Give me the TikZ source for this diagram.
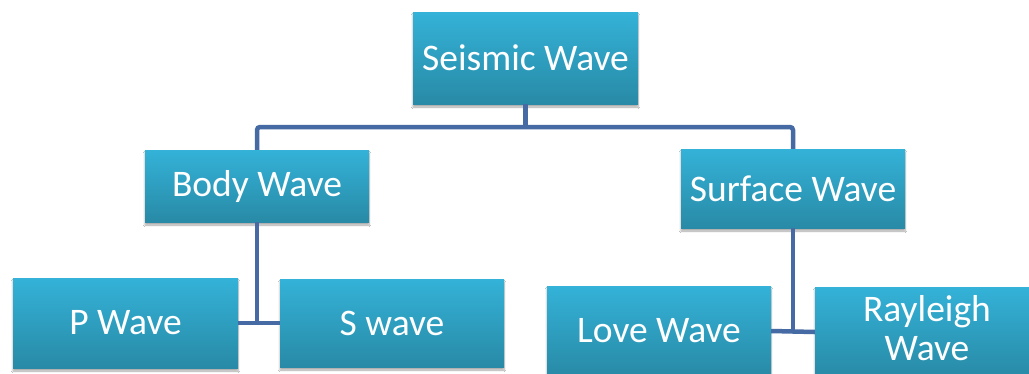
\documentclass[tikz,border=0pt]{standalone}
\usepackage{fontspec}
\setmainfont{Carlito}
\usetikzlibrary{shadows.blur}
\definecolor{boxtop}{RGB}{52,178,216}
\definecolor{boxbot}{RGB}{40,138,166}
\definecolor{linkblue}{RGB}{70,106,164}
\tikzset{
  wavebox/.style={rectangle, inner sep=0pt, align=center,
    top color=boxtop, bottom color=boxbot, draw=none,
    text=white, font=\fontsize{37.5}{39}\selectfont,
    blur shadow={shadow xshift=0pt, shadow yshift=-3pt, shadow opacity=35, shadow blur steps=6}},
  link/.style={draw=linkblue, line width=4.5pt}
}
\begin{document}
\begin{tikzpicture}[x=1pt, y=-1pt]
  \useasboundingbox (0,0) rectangle (1029,373);
  \clip (0,0) rectangle (1029,373);
  \fill[white] (0,0) rectangle (1029,373);

  % tree of seismic wave types
  \node[wavebox, minimum width=225pt, minimum height=92pt] (seis) at (525.5,58) {Seismic Wave};
  \node[wavebox, minimum width=224pt, minimum height=72pt] (body) at (257,186) {Body Wave};
  \node[wavebox, minimum width=224pt, minimum height=79pt] (surf) at (793,188.5) {Surface Wave};
  \node[wavebox, minimum width=225pt, minimum height=90pt] (pw) at (125.5,323) {P Wave};
  \node[wavebox, minimum width=224pt, minimum height=88pt] (sw) at (392,323) {S wave};
  \node[wavebox, minimum width=224pt, minimum height=90pt] (love) at (659,331) {Love Wave};
  \node[wavebox, minimum width=224pt, minimum height=90pt] (ray) at (927,332) {};
  \node[text=white, font=\fontsize{37.5}{39}\selectfont, align=center, inner sep=0pt]
    (raytext) at (927,328) {Rayleigh\\Wave};

  % connectors
  \coordinate (bus) at (525.5,127);
  \draw[link] (seis.south) -- (bus);
  \draw[link, rounded corners=3pt] (body.north) |- (bus) -| (surf.north);
  \draw[link] (body.south) -- (body.south |- pw.east);
  \draw[link] (pw.east) -- (sw.west);
  \draw[link] (surf.south) -- (surf.south |- love.east);
  \draw[link] (love.east) -- (ray.west);
\end{tikzpicture}
\end{document}
